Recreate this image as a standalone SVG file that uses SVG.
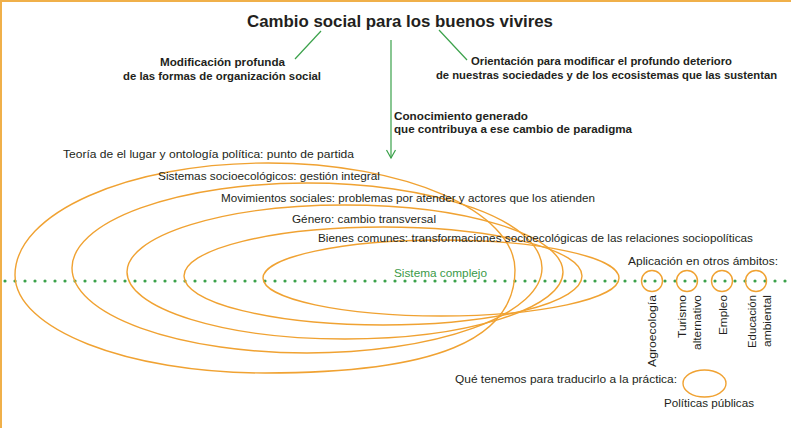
<svg xmlns="http://www.w3.org/2000/svg" width="791" height="428" viewBox="0 0 791 428">
<style>
text{font-family:"Liberation Sans",Arial,sans-serif;fill:#231f20;font-size:11.5px}
.b{font-weight:bold}
.t{font-weight:bold;font-size:16.5px}
.g{fill:#3a9a48}
.o{fill:none;stroke:#f0a232;stroke-width:1.4}
.gl{fill:none;stroke:#3aa14a;stroke-width:1.2}
</style>
<rect x="0" y="0" width="791" height="428" fill="#ffffff"/>
<line x1="0" y1="1" x2="791" y2="1" stroke="#f0b04a" stroke-width="2"/>
<line x1="1" y1="0" x2="1" y2="428" stroke="#f0b04a" stroke-width="2"/>
<g id="title"><text class="t" x="247" y="27" textLength="306" lengthAdjust="spacingAndGlyphs">Cambio social para los buenos vivires</text></g>
<g id="modificacion">
<text class="b" x="160" y="66" textLength="125" lengthAdjust="spacingAndGlyphs">Modificación profunda</text>
<text class="b" x="123" y="80" textLength="198" lengthAdjust="spacingAndGlyphs">de las formas de organización social</text>
</g>
<g id="orientacion">
<text class="b" x="471" y="65" textLength="261" lengthAdjust="spacingAndGlyphs">Orientación para modificar el profundo deterioro</text>
<text class="b" x="436" y="79" textLength="341" lengthAdjust="spacingAndGlyphs">de nuestras sociedades y de los ecosistemas que las sustentan</text>
</g>
<g id="conocimiento">
<text class="b" x="394" y="120" textLength="134" lengthAdjust="spacingAndGlyphs">Conocimiento generado</text>
<text class="b" x="394" y="133" textLength="238" lengthAdjust="spacingAndGlyphs">que contribuya a ese cambio de paradigma</text>
</g>
<g id="connectors">
<line class="gl" x1="321" y1="31" x2="295" y2="59"/>
<line class="gl" x1="439" y1="30" x2="467" y2="60"/>
<line class="gl" x1="391" y1="40" x2="391" y2="158"/>
<polyline class="gl" points="386.5,150 391,158 395.5,150"/>
</g>
<g id="dotted-line"><line x1="5" y1="281" x2="791" y2="281" stroke="#3aa14a" stroke-width="3.2" stroke-linecap="round" stroke-dasharray="0 10"/></g>
<g id="ellipse-teoria"><path class="o" d="M15,275 C15,213 128,163 268,163 C404,163 515,211 515,270 C515,340 435,373 265,373 C127,373 15,329 15,275 Z"/>
<text x="63" y="158" textLength="291" lengthAdjust="spacingAndGlyphs">Teoría de el lugar y ontología política: punto de partida</text></g>
<g id="ellipse-sistemas"><ellipse class="o" cx="307" cy="268" rx="235" ry="85"/>
<text x="158" y="180" textLength="222" lengthAdjust="spacingAndGlyphs">Sistemas socioecológicos: gestión integral</text></g>
<g id="ellipse-movimientos"><ellipse class="o" cx="345" cy="272" rx="218" ry="67"/>
<text x="221" y="202" textLength="374" lengthAdjust="spacingAndGlyphs">Movimientos sociales: problemas por atender y actores que los atienden</text></g>
<g id="ellipse-genero"><ellipse class="o" cx="383" cy="276" rx="199" ry="49"/>
<text x="292" y="223" textLength="144" lengthAdjust="spacingAndGlyphs">Género: cambio transversal</text></g>
<g id="ellipse-bienes"><ellipse class="o" cx="441" cy="278" rx="178" ry="38"/>
<text x="318" y="242" textLength="435" lengthAdjust="spacingAndGlyphs">Bienes comunes: transformaciones socioecológicas de las relaciones sociopolíticas</text></g>
<g id="sistema-complejo"><text class="g" x="394" y="277" textLength="93" lengthAdjust="spacingAndGlyphs">Sistema complejo</text></g>
<g id="aplicacion"><text x="628" y="265" textLength="150" lengthAdjust="spacingAndGlyphs">Aplicación en otros ámbitos:</text></g>
<g id="agroecologia"><circle class="o" cx="652" cy="281" r="10.5"/>
<text transform="translate(656,295) rotate(-90)" text-anchor="end" textLength="72" lengthAdjust="spacingAndGlyphs">Agroecología</text></g>
<g id="turismo"><circle class="o" cx="687" cy="281" r="10.5"/>
<text transform="translate(686,295) rotate(-90)" text-anchor="end" textLength="43" lengthAdjust="spacingAndGlyphs">Turismo</text>
<text transform="translate(701,295) rotate(-90)" text-anchor="end" textLength="55" lengthAdjust="spacingAndGlyphs">alternativo</text></g>
<g id="empleo"><circle class="o" cx="722" cy="281" r="10.5"/>
<text transform="translate(727,295) rotate(-90)" text-anchor="end" textLength="40" lengthAdjust="spacingAndGlyphs">Empleo</text></g>
<g id="educacion"><circle class="o" cx="756" cy="281" r="10.5"/>
<text transform="translate(756,295) rotate(-90)" text-anchor="end" textLength="53" lengthAdjust="spacingAndGlyphs">Educación</text>
<text transform="translate(771,295) rotate(-90)" text-anchor="end" textLength="52" lengthAdjust="spacingAndGlyphs">ambiental</text></g>
<g id="practica"><text x="455" y="383" textLength="222" lengthAdjust="spacingAndGlyphs">Qué tenemos para traducirlo a la práctica:</text></g>
<g id="politicas"><ellipse class="o" cx="704.5" cy="383.5" rx="21.5" ry="13.5"/>
<text x="664" y="407" textLength="90" lengthAdjust="spacingAndGlyphs">Políticas públicas</text></g>
</svg>
